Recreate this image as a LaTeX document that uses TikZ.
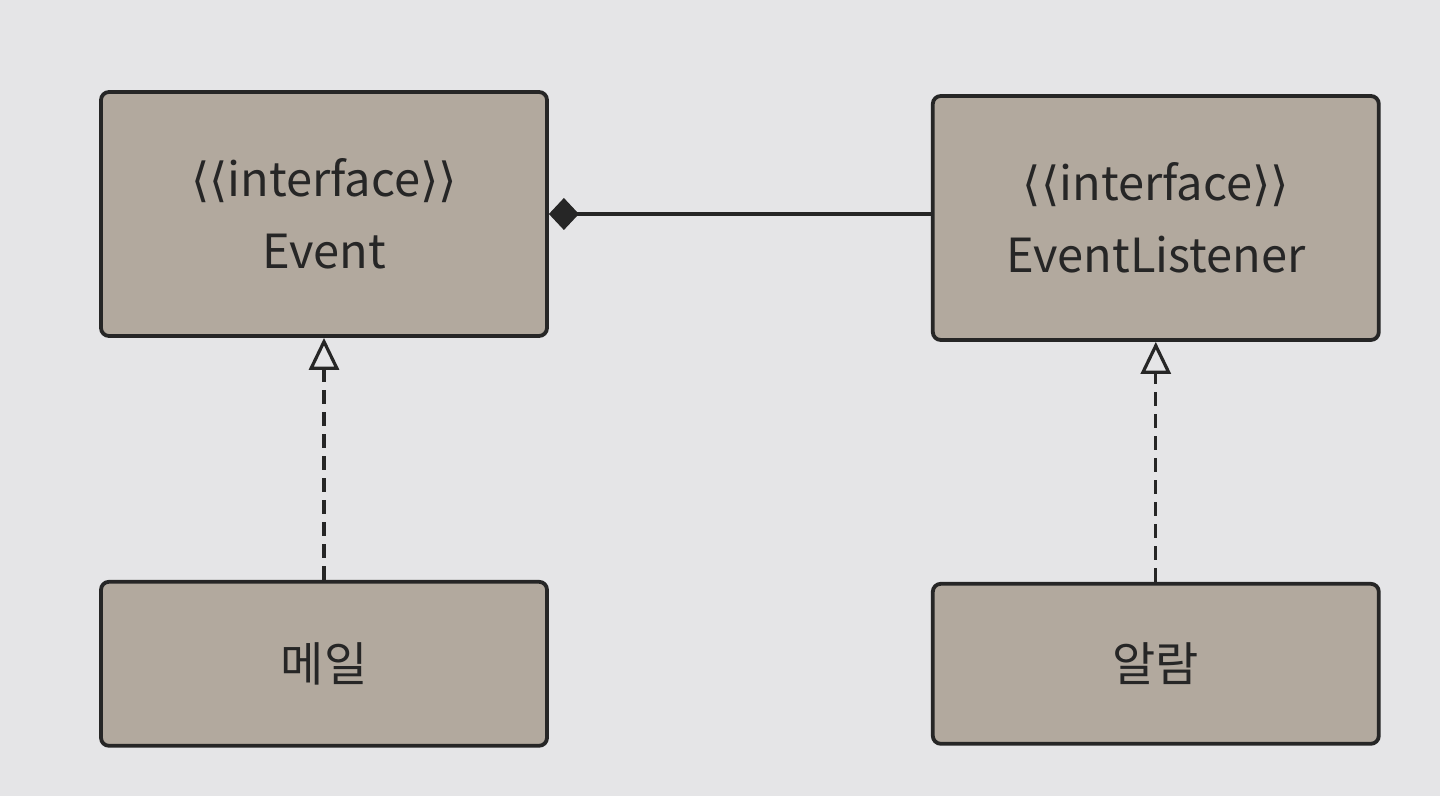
\documentclass[tikz,border=0pt]{standalone}
\usepackage{fontspec}
\setmainfont{Noto Sans CJK KR}
\newfontfamily\bracketfont{DejaVu Sans}
\usetikzlibrary{arrows.meta,positioning}
\definecolor{paper}{HTML}{E5E5E7}
\definecolor{boxfill}{HTML}{B2A99E}
\definecolor{ink}{HTML}{262626}
\tikzset{%
   cls/.style={draw=ink, fill=boxfill, line width=1.9pt, rounded corners=4pt,
      minimum width=223pt, text=ink, align=center,
      font=\fontsize{23.5}{36}\selectfont},
   comp/.style={{Diamond[length=15pt, width=16pt]}-, line width=1.6pt, draw=ink},
   real/.style={-{Triangle[open, length=16pt, width=15pt]}, line width=1.6pt,
      dash pattern=on 7pt off 4pt, draw=ink},
}
\newcommand\stereo{{\bracketfont ⟨⟨}interface{\bracketfont ⟩⟩}}

\begin{document}
\begin{tikzpicture}[x=0.5pt, y=-0.5pt]
   \fill[paper] (0,0) rectangle (1440,796);
   \useasboundingbox (0,0) rectangle (1440,796);
   \node[cls, minimum height=122pt] (event) at (324,214) {\stereo\\Event};
   \node[cls, minimum height=122pt, right=191pt of event, yshift=-2pt] (listener) {\stereo\\EventListener};
   \node[cls, minimum height=82pt, below=121pt of event] (mail) {메일};
   \node[cls, minimum height=80pt, below=120pt of listener] (alarm) {알람};
   \draw[comp] (event) -- (event -| listener.west);
   \draw[real] (mail) -- (event);
   \draw[real] (alarm) -- (listener);
\end{tikzpicture}
\end{document}
